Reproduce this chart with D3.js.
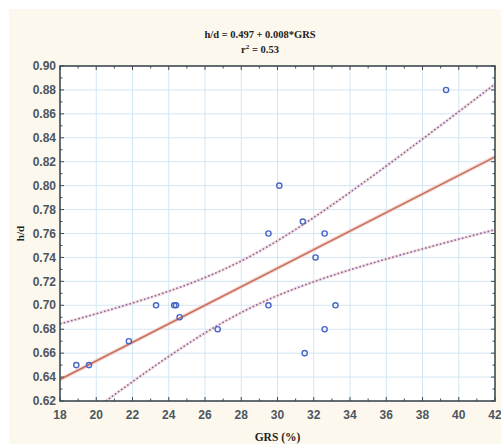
<!DOCTYPE html>
<html><head><meta charset="utf-8">
<script src="https://cdn.jsdelivr.net/npm/d3@7"></script>
<style>body{margin:0;background:#fff}svg{display:block}</style>
</head><body>
<script>
// Data
const grs = [18.9, 19.6, 21.8, 23.3, 24.3, 24.4, 24.6, 26.7, 29.5, 29.5, 30.1, 31.4, 31.5, 32.1, 32.6, 32.6, 33.2, 39.3];
const hd  = [0.65, 0.65, 0.67, 0.70, 0.70, 0.70, 0.69, 0.68, 0.76, 0.70, 0.80, 0.77, 0.66, 0.74, 0.76, 0.68, 0.70, 0.88];
const xTicks = [18, 20, 22, 24, 26, 28, 30, 32, 34, 36, 38, 40, 42];
const yTicks = [0.62, 0.64, 0.66, 0.68, 0.70, 0.72, 0.74, 0.76, 0.78, 0.80, 0.82, 0.84, 0.86, 0.88, 0.90];
const titleLine1 = "h/d = 0.497 + 0.008*GRS";
const xLabel = "GRS (%)";
const yLabel = "h/d";

const W = 501, H = 444;
const L = 60, R = 495, T = 66, B = 401;
const svg = d3.select("body").append("svg").attr("width", W).attr("height", H);
svg.append("rect").attr("x", 9).attr("y", 9).attr("width", W - 9).attr("height", H - 9).attr("fill", "#fdf8ee");

const x = d3.scaleLinear().domain([18, 42]).range([L, R]);
const y = d3.scaleLinear().domain([0.62, 0.90]).range([B, T]);

svg.append("rect").attr("x", L).attr("y", T).attr("width", R - L).attr("height", B - T).attr("fill", "#fff");

// grid
const g = svg.append("g");
g.selectAll("line.gx").data(xTicks.slice(1, -1)).join("line")
  .attr("x1", d => x(d)).attr("x2", d => x(d)).attr("y1", T).attr("y2", B)
  .attr("stroke", "#d3e6f3").attr("stroke-width", 1);
g.selectAll("line.gy").data(yTicks.slice(1, -1)).join("line")
  .attr("y1", d => y(d)).attr("y2", d => y(d)).attr("x1", L).attr("x2", R)
  .attr("stroke", "#d3e6f3").attr("stroke-width", 1);

// regression + 95% confidence band computed from the data
const n = grs.length;
const mx = d3.mean(grs), my = d3.mean(hd);
let sxx = 0, sxy = 0, syy = 0;
for (let i = 0; i < n; i++) { sxx += (grs[i]-mx)**2; sxy += (grs[i]-mx)*(hd[i]-my); syy += (hd[i]-my)**2; }
const b1 = sxy / sxx, b0 = my - b1 * mx;
const s = Math.sqrt((syy - sxy*sxy/sxx) / (n - 2));
const tcrit = 2.12;
const xs = d3.range(0, 101).map(i => 18 + i * 0.24);
const band = sgn => xs.map(v => [v, b0 + b1*v + sgn * tcrit * s * Math.sqrt(1/n + (v-mx)**2/sxx)]);

const clip = svg.append("clipPath").attr("id", "c").append("rect")
  .attr("x", L).attr("y", T).attr("width", R - L).attr("height", B - T);
const plot = svg.append("g").attr("clip-path", "url(#c)");
const line = d3.line().x(d => x(d[0])).y(d => y(d[1]));

[-1, 1].forEach(sg => {
  plot.append("path").attr("d", line(band(sg))).attr("fill", "none")
    .attr("stroke", "#f3c8c8").attr("stroke-width", 3).attr("opacity", 0.6);
  plot.append("path").attr("d", line(band(sg))).attr("fill", "none")
    .attr("stroke", "#7f6aa8").attr("stroke-width", 1.6).attr("stroke-dasharray", "1.6,2.2");
});
const fit = [[18, b0 + b1*18], [42, b0 + b1*42]];
plot.append("path").attr("d", line(fit)).attr("fill", "none")
  .attr("stroke", "#f0c4bc").attr("stroke-width", 4).attr("opacity", 0.6);
plot.append("path").attr("d", line(fit)).attr("fill", "none")
  .attr("stroke", "#c8705e").attr("stroke-width", 1.6);

// points
plot.selectAll("circle").data(grs.map((v, i) => [v, hd[i]])).join("circle")
  .attr("cx", d => x(d[0])).attr("cy", d => y(d[1])).attr("r", 2.6)
  .attr("fill", "none").attr("stroke", "#4a66c4").attr("stroke-width", 1.4);

// frame and ticks
const ax = svg.append("g").attr("stroke", "#3d4a52");
const minorX = d3.range(18, 42.01, 1), minorY = d3.range(0, 29).map(i => 0.62 + i * 0.01);
minorX.forEach((v, i) => {
  const len = i % 2 === 0 ? 4 : 2.5;
  ax.append("line").attr("x1", x(v)).attr("x2", x(v)).attr("y1", B).attr("y2", B - len).attr("stroke-width", 1);
  ax.append("line").attr("x1", x(v)).attr("x2", x(v)).attr("y1", T).attr("y2", T + len).attr("stroke-width", 1);
});
minorY.forEach((v, i) => {
  const len = i % 2 === 0 ? 4 : 2.5;
  ax.append("line").attr("y1", y(v)).attr("y2", y(v)).attr("x1", L).attr("x2", L + len).attr("stroke-width", 1);
  ax.append("line").attr("y1", y(v)).attr("y2", y(v)).attr("x1", R).attr("x2", R - len).attr("stroke-width", 1);
});
svg.append("rect").attr("x", L).attr("y", T).attr("width", R - L).attr("height", B - T)
  .attr("fill", "none").attr("stroke", "#3d4a52").attr("stroke-width", 1.6);

// tick labels
const tickFont = "'Liberation Sans Narrow','Arial Narrow','Liberation Sans',sans-serif";
svg.append("g").selectAll("text").data(yTicks).join("text")
  .attr("x", L - 4).attr("y", d => y(d)).attr("dy", "0.35em").attr("text-anchor", "end")
  .attr("font-family", tickFont).attr("font-size", 12).attr("font-weight", "bold").attr("fill", "#4c5660")
  .text(d => d.toFixed(2));
svg.append("g").selectAll("text").data(xTicks).join("text")
  .attr("x", d => x(d)).attr("y", 419).attr("text-anchor", "middle")
  .attr("font-family", tickFont).attr("font-size", 12).attr("font-weight", "bold").attr("fill", "#4c5660")
  .text(d => d);

// titles
const serif = "'Liberation Serif','Times New Roman',serif";
svg.append("text").attr("x", 260).attr("y", 38).attr("text-anchor", "middle")
  .attr("font-family", serif).attr("font-weight", "bold").attr("font-size", 10.5).attr("fill", "#222")
  .text(titleLine1);
const t2 = svg.append("text").attr("x", 260).attr("y", 53).attr("text-anchor", "middle")
  .attr("font-family", serif).attr("font-weight", "bold").attr("font-size", 10.5).attr("fill", "#222");
t2.append("tspan").text("r");
t2.append("tspan").attr("dy", -4).attr("font-size", 7).text("2");
t2.append("tspan").attr("dy", 4).text(" = 0.53");
svg.append("text").attr("x", (L + R) / 2).attr("y", 441).attr("text-anchor", "middle")
  .attr("font-family", serif).attr("font-weight", "bold").attr("font-size", 11.5).attr("fill", "#222")
  .text(xLabel);
svg.append("text").attr("transform", `translate(24,${(T + B) / 2}) rotate(-90)`).attr("text-anchor", "middle")
  .attr("font-family", serif).attr("font-weight", "bold").attr("font-size", 11).attr("fill", "#222")
  .text(yLabel);
</script>
</body></html>
